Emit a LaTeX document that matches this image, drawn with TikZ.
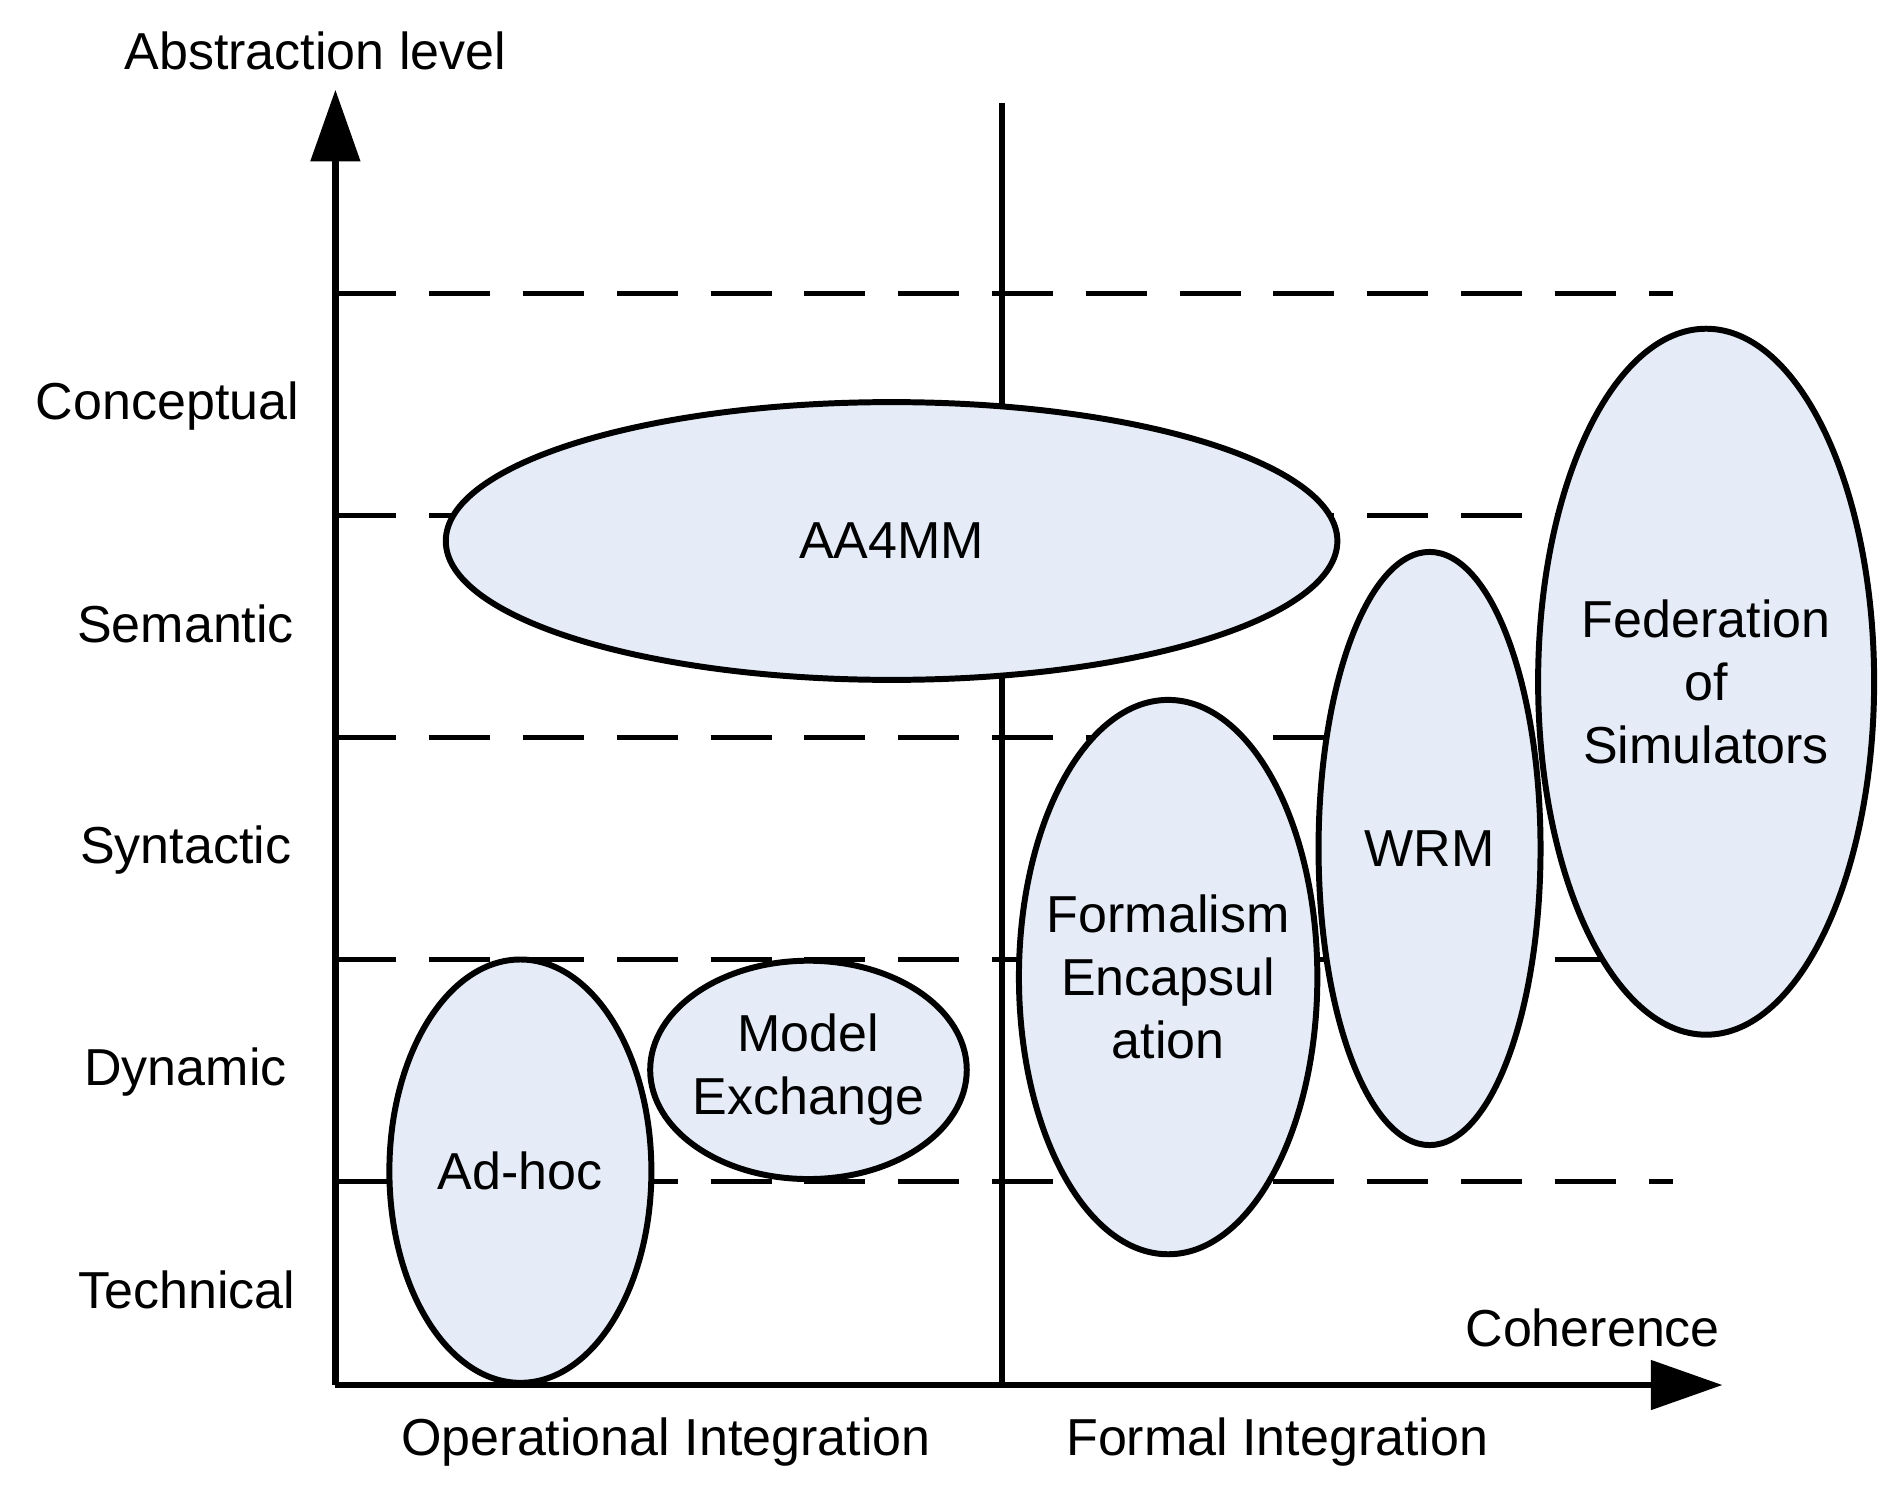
\documentclass[tikz,border=0pt]{standalone}
\usepackage{fontspec}
\setmainfont{Liberation Sans}
\usetikzlibrary{arrows.meta,shapes.geometric}
\definecolor{bubblefill}{RGB}{229,236,247}
\newcommand{\diagfont}{\fontsize{12.2}{14.8}\selectfont}
\tikzset{level/.style={line width=1.2pt, dash pattern=on 14.3pt off 7.7pt}}
\tikzset{axis/.style={line width=1.5pt, -{Triangle[length=0.59cm,width=0.40cm]}}}
\tikzset{divider/.style={line width=1.5pt}}
\tikzset{bubble/.style={draw, shape=ellipse, fill=bubblefill, line width=1.4pt, inner sep=0pt}}
\tikzset{bubbletext/.style={align=center, inner sep=0pt}}

\begin{document}
\begin{tikzpicture}
	% Default action for each node
	\tikzstyle{every node}=[font=\diagfont, text=black];

	\useasboundingbox (0,0) rectangle (15.68,12.29);

	% Axes
	\coordinate (origin) at (2.765,0.872);
	\coordinate (ytip) at (2.765,11.55);
	\coordinate (xtip) at (14.20,0.872);
	\coordinate (divtop) at (8.26,11.44);	\coordinate (divbottom) at (8.26,0.872);

	% Levels
	\coordinate (l1 west) at (2.765,9.872);		\coordinate (l1 east) at (13.79,9.872);
	\coordinate (l2 west) at (2.765,8.042);		\coordinate (l2 east) at (13.79,8.042);
	\coordinate (l3 west) at (2.765,6.211);		\coordinate (l3 east) at (13.79,6.211);
	\coordinate (l4 west) at (2.765,4.380);		\coordinate (l4 east) at (13.79,4.380);
	\coordinate (l5 west) at (2.765,2.549);		\coordinate (l5 east) at (13.79,2.549);

	\draw[level] (l1 west) -- (l1 east);
	\draw[level] (l2 west) -- (l2 east);
	\draw[level] (l3 west) -- (l3 east);
	\draw[level] (l4 west) -- (l4 east);
	\draw[level] (l5 west) -- (l5 east);

	\draw[divider] (divbottom) -- (divtop);

	% Level names
	\node (abstraction) at (2.60,11.87) {Abstraction level};
	\node (conceptual) at (1.38,8.94) {Conceptual};
	\node (semantic) at (1.53,7.15) {Semantic};
	\node (syntactic) at (1.53,5.28) {Syntactic};
	\node (dynamic) at (1.53,3.45) {Dynamic};
	\node (technical) at (1.54,1.66) {Technical};
	\node (coherence) at (13.13,1.34) {Coherence};
	\node (operational) at (5.49,0.40) {Operational Integration};
	\node (formal) at (10.53,0.40) {Formal Integration};

	% Approaches
	\node[bubble, minimum width=7.35cm, minimum height=2.29cm] (aa4mm) at (7.35,7.83) {};
	\node[bubble, minimum width=2.16cm, minimum height=3.49cm] (adhoc) at (4.29,2.635) {};
	\node[bubble, minimum width=2.61cm, minimum height=1.80cm] (modelx) at (6.665,3.47) {};
	\node[bubble, minimum width=2.46cm, minimum height=4.57cm] (formalism) at (9.63,4.235) {};
	\node[bubble, minimum width=1.83cm, minimum height=4.89cm] (wrm) at (11.785,5.295) {};
	\node[bubble, minimum width=2.77cm, minimum height=5.82cm] (federation) at (14.065,6.67) {};

	\node[bubbletext] (aa4mm text) at (aa4mm) {AA4MM};
	\node[bubbletext] (adhoc text) at (adhoc) {Ad-hoc};
	\node[bubbletext] (modelx text) at (modelx) {Model\\Exchange};
	\node[bubbletext] (formalism text) at (formalism) {Formalism\\Encapsul\\ation};
	\node[bubbletext] (wrm text) at (wrm) {WRM};
	\node[bubbletext] (federation text) at (federation) {Federation\\of\\Simulators};

	\draw[axis] (origin) -- (ytip);
	\draw[axis] (origin) -- (xtip);
\end{tikzpicture}
\end{document}
